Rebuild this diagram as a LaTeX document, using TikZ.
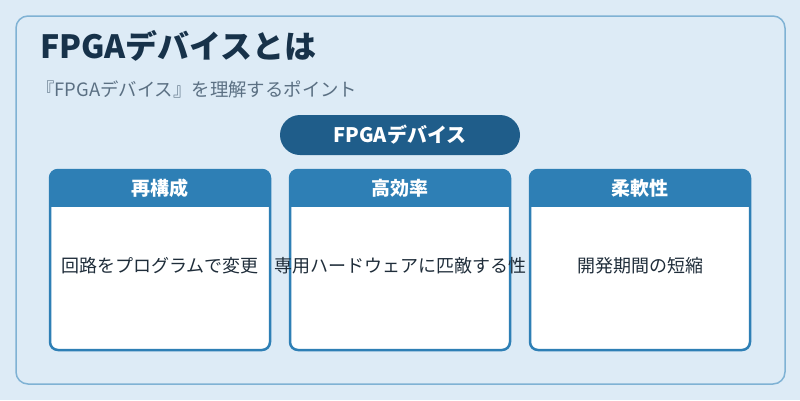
\documentclass[tikz,border=0pt]{standalone}
\usepackage{fontspec}
\setmainfont{Noto Sans CJK JP}
\usepackage{tikz}
\usepackage{xcolor}
\usetikzlibrary{shapes.misc, positioning, calc}
\definecolor{cBg}{HTML}{DDEBF6}
\definecolor{cFrame}{HTML}{7FB2D4}
\definecolor{cTitle}{HTML}{17324A}
\definecolor{cSub}{HTML}{5B7083}
\definecolor{cPill}{HTML}{1F5D8A}
\definecolor{cHead}{HTML}{2E7FB5}
\definecolor{cText}{HTML}{1F2D3A}
\tikzset{
	frame/.style    ={draw=cFrame, line width=1.5pt, rounded corners=12pt, fill=cBg},
	pill/.style     ={rounded rectangle, fill=cPill, text=white, font=\fontsize{20}{24}\selectfont\bfseries, minimum width=240pt, minimum height=40pt, inner sep=0pt},
	card/.style     ={rectangle, rounded corners=8pt, minimum width=220pt, minimum height=180pt, inner sep=0pt},
	cardhead/.style ={text=white, font=\fontsize{19}{22}\selectfont\bfseries},
	cardbody/.style ={text=cText, font=\fontsize{18}{21}\selectfont},
}

\begin{document}
\begin{tikzpicture}[x=1pt, y=-1pt]
	\fill[cBg] (0,0) rectangle (800,400);
	\useasboundingbox (0,0) rectangle (800,400);
	\draw[frame] (16,16) rectangle (785,384);
	\node[anchor=base west, text=cTitle, font=\fontsize{32}{36}\selectfont\bfseries, inner sep=0pt] (title) at (40,58) {FPGAデバイスとは};
	\node[anchor=west, text=cSub, font=\fontsize{18.4}{22}\selectfont, inner sep=0pt] (subtitle) at (36,89) {『FPGAデバイス』を理解するポイント};
	\node[pill] (device) at (400,135) {FPGAデバイス};
	\foreach \cx/\nm/\head/\body in {160/reconf/再構成/回路をプログラムで変更, 400/effic/高効率/専用ハードウェアに匹敵する性, 640/flex/柔軟性/開発期間の短縮} {
		\node[card, fill=white] (\nm) at (\cx,260) {};
		\begin{scope}
			\clip[rounded corners=8pt] (\nm.north west) rectangle (\nm.south east);
			\fill[cHead] (\nm.north west) rectangle ($(\nm.north east)+(0,37)$);
		\end{scope}
		\node[card, draw=cHead, line width=2.5pt] at (\nm) {};
		\node[cardhead] (\nm-head) at ($(\nm.north)+(0,18)$) {\head};
		\node[cardbody] (\nm-body) at ($(\nm.center)+(0,6)$) {\body};
	}
\end{tikzpicture}
\end{document}
